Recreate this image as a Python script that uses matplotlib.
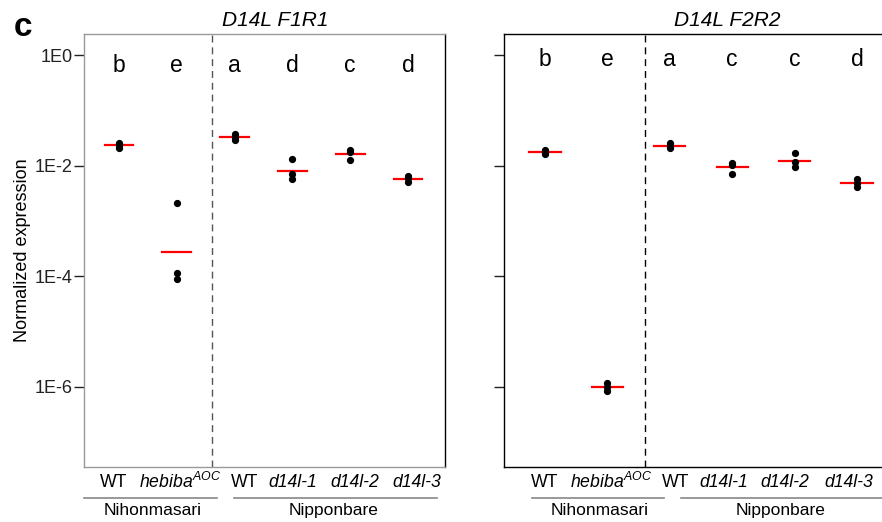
import numpy as np
import matplotlib.pyplot as plt
from matplotlib import transforms

plt.rcParams['font.family'] = ['Liberation Sans', 'DejaVu Sans']
plt.rcParams['mathtext.fontset'] = 'custom'
plt.rcParams['mathtext.it'] = 'Liberation Sans:italic'
plt.rcParams['mathtext.rm'] = 'Liberation Sans'

# genotypes (x order), significance letters and replicate values
genotypes = ['WT', 'hebiba', 'WT', 'd14l-1', 'd14l-2', 'd14l-3']
backgrounds = ['Nihonmasari', 'Nipponbare']
letters_f1r1 = ['b', 'e', 'a', 'd', 'c', 'd']
letters_f2r2 = ['b', 'e', 'a', 'c', 'c', 'd']

f1r1 = [
    [0.0257, 0.0234, 0.0214],
    [2.1e-3, 1.15e-4, 8.9e-5],
    [0.0383, 0.0335, 0.0293],
    [0.0130, 0.00723, 0.00573],
    [0.0191, 0.0175, 0.0125],
    [0.00656, 0.00604, 0.00514],
]
f2r2 = [
    [0.0191, 0.0175, 0.0160],
    [1.17e-6, 1.0e-6, 0.83e-6],
    [0.0257, 0.0232, 0.0206],
    [0.0111, 0.0105, 0.00723],
    [0.0167, 0.0117, 0.00933],
    [0.00566, 0.00493, 0.00420],
]

ytick_vals = [1, 1e-2, 1e-4, 1e-6]
ytick_labels = ['1E0', '1E-2', '1E-4', '1E-6']

W, H = 882, 522
fig = plt.figure(figsize=(W / 100, H / 100), dpi=100)


def panel(rect, data, letters, title, title_x, xlim, lab_x, grp_lines, grp_x,
          frame_col, dash_col, show_labels, letter_y):
    ax = fig.add_axes(rect)
    x = np.arange(1, len(data) + 1)
    for xi, vals in zip(x, data):
        ax.plot([xi] * len(vals), vals, 'o', color='black', ms=4.2, zorder=3)
        # red bar = geometric mean of the replicates
        gm = np.exp(np.mean(np.log(vals)))
        ax.plot([xi - 0.25, xi + 0.25], [gm, gm], color='red', lw=1.6, zorder=2)
    ax.set_yscale('log')
    ax.set_ylim(10 ** -7.447, 10 ** 0.383)
    ax.set_xlim(*xlim)
    ax.axvline(2.6, color=dash_col, lw=1, linestyle=(0, (5, 3.5)))
    ax.set_yticks(ytick_vals)
    ax.minorticks_off()
    if show_labels:
        ax.set_yticklabels(ytick_labels, fontsize=13)
    else:
        ax.set_yticklabels([])
    ax.tick_params(axis='y', direction='out', length=7, width=1, pad=1, colors='#222222')
    ax.set_xticks([])
    for s in ax.spines.values():
        s.set_color(frame_col)
        s.set_linewidth(1)
    tr = transforms.blended_transform_factory(ax.transData, ax.transAxes)
    for xi, l in zip(x, letters):
        ax.text(xi, letter_y, l, ha='center', va='center', fontsize=16.5, transform=tr)
    for g, lx in zip(genotypes, lab_x):
        if g == 'hebiba':
            txt, style = r'$hebiba^{AOC}$', 'normal'
        else:
            txt, style = g, ('italic' if g.startswith('d14l') else 'normal')
        ax.text(lx, -0.035, txt, ha='center', va='center', fontsize=12.7,
                fontstyle=style, transform=tr, clip_on=False)
    for (x0, x1), gx, name in zip(grp_lines, grp_x, backgrounds):
        ax.plot([x0, x1], [-0.071, -0.071], color='#888888', lw=1.2,
                transform=tr, clip_on=False)
        ax.text(gx, -0.101, name, ha='center', va='center', fontsize=12.5,
                transform=tr, clip_on=False)
    fig.text(title_x / W, 1 - 20.5 / H, title, ha='center', va='center',
             fontsize=15, fontstyle='italic')
    return ax


ax1 = panel([84 / W, 55 / H, 361 / W, 433 / H], f1r1, letters_f1r1, 'D14L F1R1', 275,
            (0.394, 6.64), [0.91, 2.06, 3.18, 4.0, 5.08, 6.16],
            [(0.39, 2.70), (2.99, 6.50)], [1.58, 4.71], '#999999', '#555555', True, 0.928)
ax1.spines['right'].set_color('black')
ax1.set_ylabel('Normalized expression', fontsize=13, labelpad=3)

ax2 = panel([504 / W, 55 / H, 378 / W, 433 / H], f2r2, letters_f2r2, 'D14L F2R2', 727,
            (0.343, 6.40), [1.0, 2.06, 3.1, 3.87, 4.85, 5.86],
            [(0.79, 2.91), (3.18, 6.6)], [1.87, 4.77], 'black', 'black', False, 0.942)
ax2.spines['right'].set_visible(False)

fig.text(14 / W, 1 - 27 / H, 'c', fontsize=24, fontweight='bold', ha='left', va='center')

fig.savefig('out.png', dpi=100)
